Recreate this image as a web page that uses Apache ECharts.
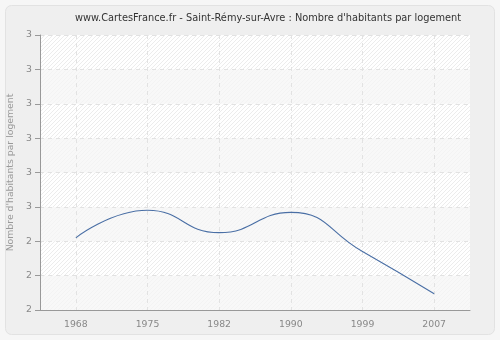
<!DOCTYPE html>
<html>
<head>
<meta charset="utf-8">
<script src="https://cdn.jsdelivr.net/npm/echarts@6/dist/echarts.min.js"></script>
<style>html,body{margin:0;padding:0;background:#f6f6f6;}#c{width:500px;height:340px;}</style>
</head>
<body>
<div id="c"></div>
<script>
const categories = ['1968', '1975', '1982', '1990', '1999', '2007'];
const values = [2.41, 2.49, 2.425, 2.484, 2.37, 2.247];
const yMin = 2.2, yMax = 3.0, yStep = 0.1;

const pc = document.createElement('canvas');
pc.width = 4; pc.height = 4;
const g = pc.getContext('2d');
g.fillStyle = '#ffffff'; g.fillRect(0, 0, 4, 4);
g.strokeStyle = '#ececec'; g.lineWidth = 1;
g.beginPath(); g.moveTo(0, 4); g.lineTo(4, 0); g.stroke();
g.beginPath(); g.moveTo(-1, 1); g.lineTo(1, -1); g.stroke();
g.beginPath(); g.moveTo(3, 5); g.lineTo(5, 3); g.stroke();

const chart = echarts.init(document.getElementById('c'), null, {renderer: 'canvas'});
chart.setOption({
  backgroundColor: '#f6f6f6',
  animation: false,
  graphic: [{
    type: 'rect', z: -10, silent: true,
    shape: {x: 5.5, y: 5.5, width: 489, height: 329, r: 6},
    style: {fill: '#efefef', stroke: '#e2e2e2', lineWidth: 1}
  }],
  title: {
    text: "www.CartesFrance.fr - Saint-Rémy-sur-Avre : Nombre d'habitants par logement",
    left: 263, top: 8, textAlign: 'center',
    textStyle: {fontFamily: 'DejaVu Sans', fontSize: 9.8, fontWeight: 'normal', color: '#333'}
  },
  grid: {left: 40, right: 30, top: 35, bottom: 30, show: true, containLabel: false,
    outerBoundsMode: 'none',
    backgroundColor: {image: pc, repeat: 'repeat'}, borderWidth: 0},
  xAxis: {
    type: 'category', data: categories, boundaryGap: true,
    axisLine: {lineStyle: {color: '#999'}},
    axisTick: {alignWithLabel: true, length: 5, lineStyle: {color: '#999'}},
    axisLabel: {color: '#888', fontFamily: 'DejaVu Sans', fontSize: 9.3, margin: 10},
    splitLine: {show: true, alignWithLabel: true, lineStyle: {color: '#e2e2e2', type: [4, 4]}}
  },
  yAxis: {
    type: 'value', min: yMin, max: yMax, interval: yStep,
    name: "Nombre d'habitants par logement", nameLocation: 'middle', nameGap: 18,
    nameTextStyle: {color: '#999', fontFamily: 'DejaVu Sans', fontSize: 9.3},
    axisLine: {show: true, lineStyle: {color: '#999'}},
    axisTick: {show: true, length: 5, lineStyle: {color: '#999'}},
    axisLabel: {color: '#888', fontFamily: 'DejaVu Sans', fontSize: 9.3, margin: 8,
      formatter: v => String(Math.round(v + 1e-9))},
    splitLine: {show: true, lineStyle: {color: '#e2e2e2', type: [4, 4]}},
    splitArea: {show: true, areaStyle: {color: ['rgba(246,246,246,0.75)', 'rgba(255,255,255,0)']}}
  },
  series: [{
    type: 'line', data: values, smooth: 0.5, symbol: 'none',
    lineStyle: {color: '#4a6fa5', width: 1.1}
  }]
});
</script>
</body>
</html>
